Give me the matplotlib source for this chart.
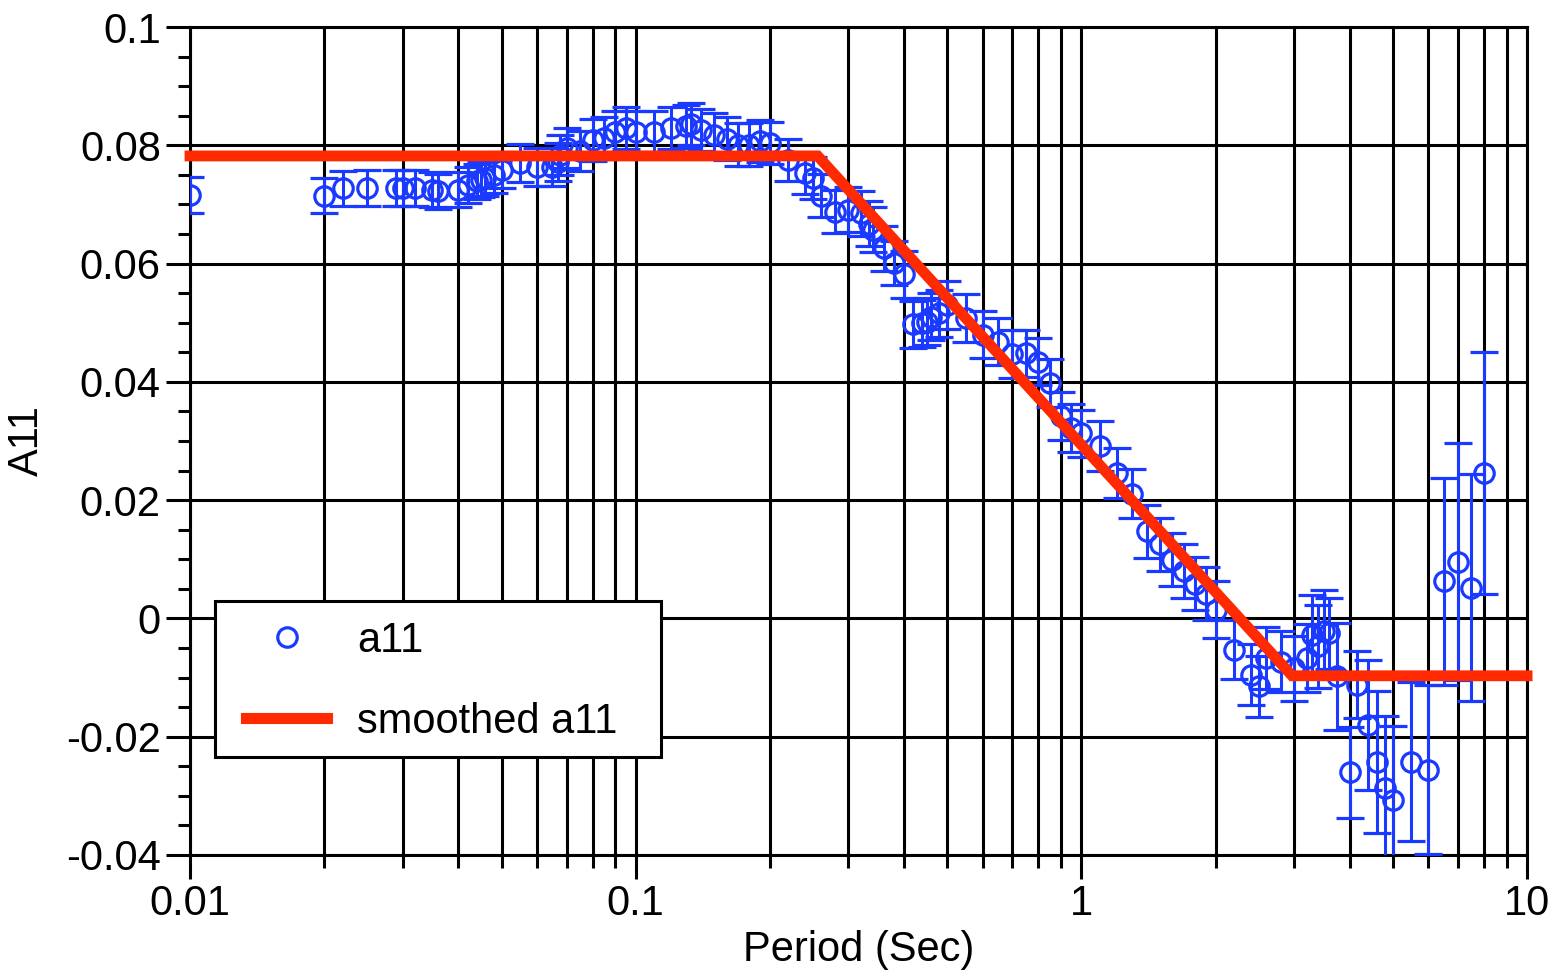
import matplotlib
matplotlib.use("Agg")
import matplotlib.pyplot as plt
from matplotlib.ticker import LogLocator, MultipleLocator, FuncFormatter, NullFormatter
from matplotlib.lines import Line2D
from matplotlib.patches import Rectangle
import numpy as np

plt.rcParams['font.family'] = ['Liberation Sans', 'DejaVu Sans']

period = [0.01, 0.02, 0.022, 0.025, 0.029, 0.030, 0.032, 0.035, 0.036, 0.040,
          0.042, 0.044, 0.045, 0.046, 0.048, 0.050, 0.055, 0.060, 0.065, 0.067,
          0.0676, 0.070, 0.075, 0.080, 0.085, 0.090, 0.095, 0.100, 0.110, 0.120,
          0.130, 0.133, 0.140, 0.150, 0.160, 0.170, 0.180, 0.190, 0.200, 0.220,
          0.240, 0.250, 0.260, 0.280, 0.300, 0.320, 0.333, 0.340, 0.360, 0.380,
          0.400, 0.420, 0.440, 0.450, 0.460, 0.480, 0.500, 0.550, 0.600, 0.650,
          0.700, 0.750, 0.800, 0.850, 0.900, 0.950, 1.000, 1.100, 1.200, 1.300,
          1.400, 1.500, 1.600, 1.700, 1.800, 1.900, 2.000, 2.200, 2.400, 2.500,
          2.600, 2.800, 3.000, 3.200, 3.300, 3.400, 3.500, 3.600, 3.750, 4.000,
          4.150, 4.400, 4.600, 4.800, 5.000, 5.500, 6.000, 6.500, 7.000, 7.500,
          8.000]
a11 = [0.0716, 0.0715, 0.0727, 0.0728, 0.0728, 0.0728, 0.0728, 0.0725, 0.0722, 0.0725,
       0.0733, 0.0739, 0.0742, 0.0745, 0.0750, 0.0758, 0.0770, 0.0764, 0.0764, 0.0772,
       0.0784, 0.0795, 0.0791, 0.0809, 0.0812, 0.0823, 0.0829, 0.0823, 0.0823, 0.0829,
       0.0832, 0.0836, 0.0826, 0.0818, 0.0811, 0.0801, 0.0801, 0.0807, 0.0804, 0.0775,
       0.0753, 0.0745, 0.0715, 0.0688, 0.0691, 0.0685, 0.0667, 0.0657, 0.0626, 0.0601,
       0.0582, 0.0497, 0.0499, 0.0502, 0.0510, 0.0516, 0.0530, 0.0508, 0.0480, 0.0468,
       0.0447, 0.0448, 0.0434, 0.0398, 0.0342, 0.0322, 0.0313, 0.0291, 0.0246, 0.0211,
       0.0147, 0.0125, 0.0099, 0.0080, 0.0059, 0.0042, 0.0015, -0.0053, -0.0095, -0.0115,
       -0.0067, -0.0073, -0.0084, -0.0067, -0.0028, -0.0047, -0.0022, -0.0025, -0.0098, -0.0260,
       -0.0112, -0.0180, -0.0242, -0.0287, -0.0307, -0.0242, -0.0256, 0.0063, 0.0096, 0.0052,
       0.0246]
a11_err = [0.0030, 0.0030, 0.0030, 0.0030, 0.0030, 0.0030, 0.0030, 0.0030, 0.0030, 0.0030,
           0.0030, 0.0030, 0.0030, 0.0030, 0.0030, 0.0030, 0.0032, 0.0032, 0.0032, 0.0032,
           0.0034, 0.0034, 0.0034, 0.0035, 0.0035, 0.0035, 0.0035, 0.0035, 0.0035, 0.0035,
           0.0036, 0.0036, 0.0036, 0.0036, 0.0036, 0.0036, 0.0036, 0.0036, 0.0036, 0.0036,
           0.0036, 0.0036, 0.0036, 0.0036, 0.0038, 0.0038, 0.0038, 0.0038, 0.0038, 0.0038,
           0.0040, 0.0040, 0.0040, 0.0040, 0.0040, 0.0040, 0.0040, 0.0040, 0.0040, 0.0040,
           0.0040, 0.0040, 0.0040, 0.0040, 0.0040, 0.0040, 0.0040, 0.0042, 0.0042, 0.0042,
           0.0045, 0.0045, 0.0045, 0.0045, 0.0045, 0.0045, 0.0048, 0.0050, 0.0052, 0.0052,
           0.0052, 0.0052, 0.0055, 0.0057, 0.0068, 0.0070, 0.0070, 0.0060, 0.0090, 0.0077,
           0.0057, 0.0110, 0.0120, 0.0122, 0.0125, 0.0135, 0.0143, 0.0175, 0.0200, 0.0192,
           0.0205]

smooth_period = [0.01, 0.256, 2.97, 10.0]
smooth_a11 = [0.0782, 0.0782, -0.0097, -0.0097]

blue = '#1a3aff'
red = '#ff2a00'
FS = 30

fig = plt.figure(figsize=(15.6, 9.75), dpi=100)
ax = fig.add_axes([0.1218, 0.1231, 0.8571, 0.8492])

ax.errorbar(period, a11, yerr=a11_err, fmt='o', color=blue, mfc='none', mec=blue,
            ms=14, mew=2.3, elinewidth=2.2, capsize=10, capthick=2.2, zorder=3)
ax.plot(smooth_period, smooth_a11, color=red, lw=7.8, solid_capstyle='projecting',
        solid_joinstyle='miter', zorder=4, clip_on=False)

ax.set_xscale('log')
ax.set_xlim(0.01, 10)
ax.set_ylim(-0.04, 0.1)

ax.xaxis.set_major_locator(LogLocator(base=10))
ax.xaxis.set_minor_locator(LogLocator(base=10, subs=np.arange(2, 10)))
ax.xaxis.set_minor_formatter(NullFormatter())
ax.xaxis.set_major_formatter(FuncFormatter(lambda v, p: '{:g}'.format(v)))
ax.yaxis.set_major_locator(MultipleLocator(0.02))
ax.yaxis.set_minor_locator(MultipleLocator(0.005))
ax.yaxis.set_major_formatter(FuncFormatter(lambda v, p: '{:g}'.format(round(v, 4))))

ax.grid(True, which='major', axis='both', color='black', lw=2.2, zorder=0)
ax.grid(True, which='minor', axis='x', color='black', lw=2.2, zorder=0)
ax.set_axisbelow(True)

ax.tick_params(which='major', direction='out', length=17, width=2.2, labelsize=FS,
               color='black', pad=4)
ax.tick_params(which='minor', direction='out', length=9, width=2.2)
for s in ax.spines.values():
    s.set_linewidth(2.2)
    s.set_color('black')

ax.set_xlabel('Period (Sec)', fontsize=FS, labelpad=4)
ax.set_ylabel('A11', fontsize=FS, labelpad=14)

# legend box (frame drawn separately to match the reference proportions)
box = Rectangle((0.0187, 0.1184), 0.3336, 0.1884, transform=ax.transAxes,
                facecolor='white', edgecolor='black', lw=2.2, zorder=5)
ax.add_patch(box)

h1 = Line2D([], [], ls='none', marker='o', ms=14, mfc='none', mec=blue, mew=2.3)
h2 = Line2D([], [], color=red, lw=8)
leg = ax.legend([h1, h2], ['a11', 'smoothed a11'], loc='upper left',
                bbox_to_anchor=(0.0419, 0.2826), borderaxespad=0,
                fontsize=FS, frameon=False, handlelength=1.95, handletextpad=0.72,
                borderpad=0.0, labelspacing=0.98, numpoints=1)
leg.set_zorder(6)

fig.savefig('out.png', dpi=100)
